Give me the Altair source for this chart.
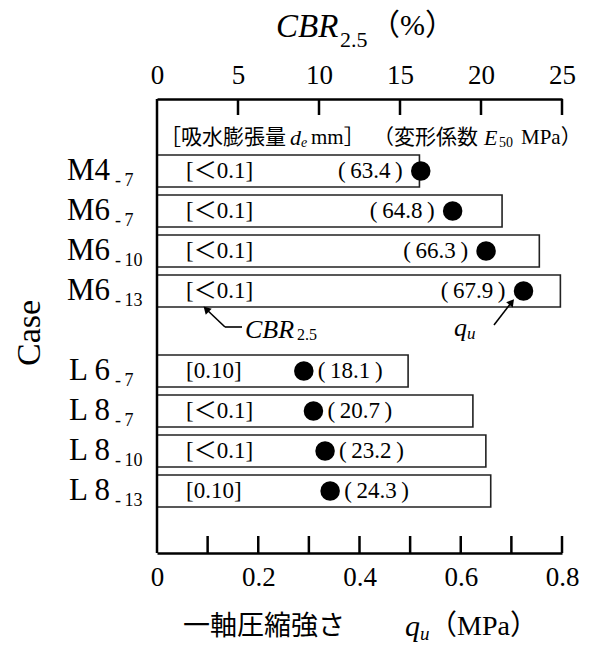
import altair as alt
import pandas as pd

SERIF = "Liberation Serif, Times New Roman, serif"
MIX = "Liberation Serif, Noto Sans CJK JP"
CJK = "Noto Sans CJK JP"

# ---- data ----
cases = ["M4-7", "M6-7", "M6-10", "M6-13", "L6-7", "L8-7", "L8-10", "L8-13"]
groups = ["M", "M", "M", "M", "L", "L", "L", "L"]
case_main = ["M4", "M6", "M6", "M6", "L 6", "L 8", "L 8", "L 8"]
case_sub = ["-\u20097", "-\u20097", "-\u200910", "-\u200913", "-\u20097", "-\u20097", "-\u200910", "-\u200913"]
cbr = [16.2, 21.3, 23.6, 24.9, 15.5, 19.5, 20.3, 20.6]
qu = [0.521, 0.584, 0.650, 0.724, 0.290, 0.309, 0.332, 0.342]
e50 = [63.4, 64.8, 66.3, 67.9, 18.1, 20.7, 23.2, 24.3]
de = ["＜0.1", "＜0.1", "＜0.1", "＜0.1", "0.10", "＜0.1", "＜0.1", "0.10"]
y_domain = ["_top", "M4-7", "M6-7", "M6-10", "M6-13", " ", "L6-7", "L8-7", "L8-10", "L8-13", "_bot"]
cbr_ticks = [0, 5, 10, 15, 20, 25]
qu_labels = [0, 0.2, 0.4, 0.6, 0.8]
qu_minor = [0.1, 0.2, 0.3, 0.4, 0.5, 0.6, 0.7, 0.8]

df = pd.DataFrame(dict(case=cases, group=groups, main=case_main, sub=case_sub,
                       cbr=cbr, qu=qu, e50=e50, de=de))
df["e50_label"] = ["(\u2009" + f"{v:.1f}" + "\u2009)" for v in e50]
df["de_label"] = ["[" + v + "]" for v in de]

W, H = 405, 454

ysc = alt.Scale(domain=y_domain, paddingInner=0.2, paddingOuter=0.275, align=0.727)
Ynone = alt.Y("case:N", scale=ysc, axis=None)
cbr_scale = alt.Scale(domain=[0, 25], nice=False, zero=True)
qu_scale = alt.Scale(domain=[0, 0.8], nice=False, zero=True)

base = alt.Chart(df)

bars = base.mark_bar(fill="white", stroke="#222", strokeWidth=1.6).encode(
    x=alt.X("cbr:Q", scale=cbr_scale, title=None,
            axis=alt.Axis(orient="top", values=cbr_ticks, ticks=False, tickSize=0,
                          domainColor="black", domainWidth=2.5, grid=False,
                          labelFont=SERIF, labelFontSize=27, labelColor="black",
                          labelPadding=10, labelFlush=False, labelOverlap=False)),
    y=Ynone,
)

dots = base.mark_circle(size=380, color="black", opacity=1).encode(
    x=alt.X("qu:Q", scale=qu_scale, title=None,
            axis=alt.Axis(orient="bottom", values=qu_labels, format=".1~f", ticks=False,
                          tickSize=0, domainColor="black", domainWidth=2.5, grid=False,
                          labelFont=SERIF, labelFontSize=27, labelColor="black",
                          labelPadding=11, labelFlush=False, labelOverlap=False)),
    y=Ynone,
)

e50_m = base.transform_filter(alt.datum.group == "M").mark_text(
    font=SERIF, fontSize=23, align="right", baseline="middle", dx=-18, color="black"
).encode(x=alt.X("qu:Q", scale=qu_scale, axis=None), y=Ynone, text="e50_label:N")

e50_l = base.transform_filter(alt.datum.group == "L").mark_text(
    font=SERIF, fontSize=23, align="left", baseline="middle", dx=14, color="black"
).encode(x=alt.X("qu:Q", scale=qu_scale, axis=None), y=Ynone, text="e50_label:N")

de_txt = base.mark_text(font=MIX, fontSize=23, align="left", baseline="middle",
                        color="black").encode(
    x=alt.value(29), y=Ynone, text="de_label:N")

lab_main = base.mark_text(font=SERIF, fontSize=31, align="right", baseline="middle",
                          color="black").encode(
    x=alt.value(-47), y=Ynone, text="main:N")
lab_sub = base.mark_text(font=SERIF, fontSize=18, align="left", baseline="middle",
                         dy=10, color="black").encode(
    x=alt.value(-42), y=Ynone, text="sub:N")

top_ticks = alt.Chart(pd.DataFrame({"v": cbr_ticks[1:]})).mark_rule(
    color="black", strokeWidth=2.5).encode(
    x=alt.X("v:Q", scale=cbr_scale, axis=None), y=alt.value(0), y2=alt.value(16))

bot_ticks = alt.Chart(pd.DataFrame({"v": qu_minor})).mark_rule(
    color="black", strokeWidth=2.5).encode(
    x=alt.X("v:Q", scale=qu_scale, axis=None), y=alt.value(H), y2=alt.value(H - 17))

one = pd.DataFrame({"t": [""]})

left_line = alt.Chart(one).mark_rule(color="black", strokeWidth=2.5).encode(
    x=alt.value(0), y=alt.value(0), y2=alt.value(H))


def txt(s, x, y, size, font=SERIF, style="normal", align="left", angle=0):
    kw = dict(font=font, fontSize=size, fontStyle=style, align=align,
              baseline="middle", color="black", text=s)
    if angle:
        kw["angle"] = angle
    return alt.Chart(one).mark_text(**kw).encode(x=alt.value(x), y=alt.value(y))


def seg(x1, y1, x2, y2):
    return alt.Chart(one).mark_rule(color="black", strokeWidth=1.6).encode(
        x=alt.value(x1), y=alt.value(y1), x2=alt.value(x2), y2=alt.value(y2))


def head(x, y, ang):
    return alt.Chart(one).mark_point(shape="triangle", filled=True, size=70,
                                     color="black", opacity=1, angle=ang).encode(
        x=alt.value(x), y=alt.value(y))


texts = [
    # top title
    txt("CBR", 119, -72, 33, style="italic"),
    txt("2.5", 183, -59, 22),
    txt("（%）", 213, -73, 30, font=MIX),
    # header
    txt("［吸水膨張量", 3, 39, 21, font=CJK),
    txt("d", 133, 39, 22, style="italic"),
    txt("e", 144, 44, 14, style="italic"),
    txt("mm］", 154, 39, 21, font=MIX),
    txt("（変形係数", 216, 39, 21, font=CJK),
    txt("E", 327, 39, 22, style="italic"),
    txt("50", 342, 44, 14),
    txt("MPa）", 364, 39, 21, font=MIX),
    # annotation labels
    txt("CBR", 88, 231, 26, style="italic"),
    txt("2.5", 140, 236, 16),
    txt("q", 297, 229, 26, style="italic"),
    txt("u", 310, 235, 17, style="italic"),
    # bottom title
    txt("一軸圧縮強さ", 26, 528, 27, font=CJK),
    txt("q", 248, 528, 30, style="italic"),
    txt("u", 263, 535, 19, style="italic"),
    txt("（MPa）", 272, 528, 28, font=MIX),
    # y title
    txt("Case", -127, 234, 34, align="center", angle=270),
]

arrows = [
    seg(48, 209, 68, 228), seg(68, 228, 85, 228), head(50, 211, 315),
    seg(337, 226, 354, 204), head(354, 204, 38),
]

chart = alt.layer(
    bars, top_ticks, bot_ticks, left_line, dots, e50_m, e50_l, de_txt, lab_main, lab_sub,
    *texts, *arrows
).resolve_scale(x="independent").properties(
    width=W, height=H,
    autosize=alt.AutoSizeParams(type="none"),
    padding={"left": 149, "top": 91, "right": 22, "bottom": 92},
).configure_view(stroke=None)

chart.save("out.html", embed_options={"renderer": "svg", "actions": False})
